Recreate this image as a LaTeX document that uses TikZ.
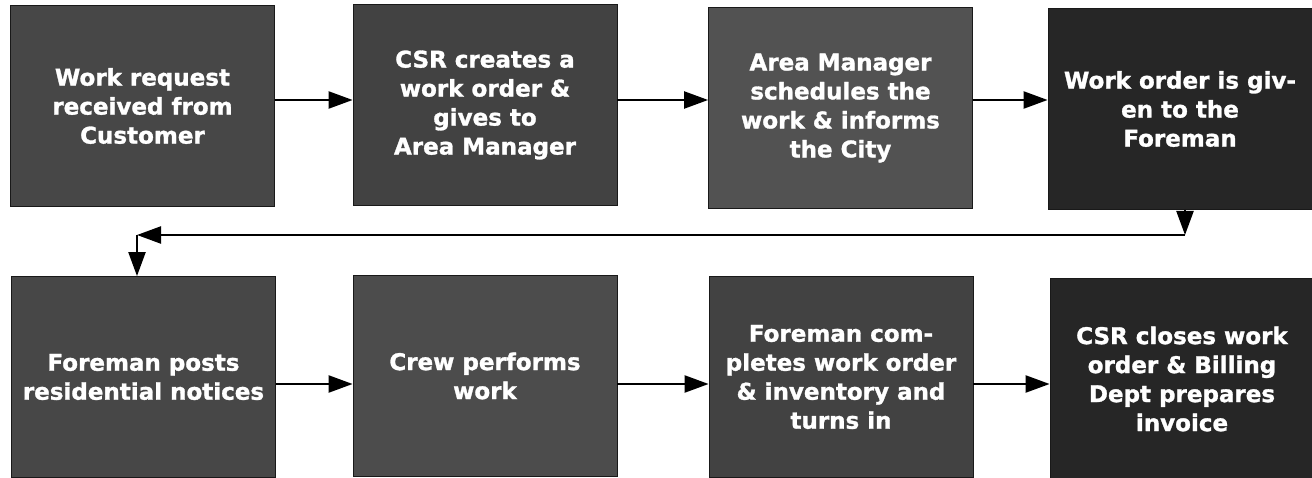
\documentclass[tikz,border=0pt]{standalone}
\usepackage{fontspec}
\setmainfont{DejaVu Sans}
\newfontfamily\boxfont[BoldFeatures={FakeBold=1.3}]{DejaVu Sans}
\usetikzlibrary{arrows.meta}
\begin{document}
\begin{tikzpicture}[x=1pt,y=-1pt,
  box/.style={rectangle, fill=#1, draw=black!90, line width=0.8pt, inner sep=0pt,
    minimum width=264pt, minimum height=201pt, align=center, text=white,
    font=\boxfont\bfseries\fontsize{23}{29}\selectfont},
  box/.default={black!72},
  flow/.style={line width=2.2pt, -{Triangle[length=24pt,width=17pt]}}]
\useasboundingbox (0,0) rectangle (1312,478);
\node[box] (b1) at (142.5,106) {Work request\\received from\\Customer};
\node[box={black!74}] (b2) at (485,105) {CSR creates a\\work order \&\\gives to\\Area Manager};
\node[box={black!68}] (b3) at (840.5,108) {Area Manager\\schedules the\\work \& informs\\the City};
\node[box={black!85}] (b4) at (1180,109) {Work order is giv-\\en to the\\Foreman};
\node[box={black!72}] (b5) at (143.5,377) {Foreman posts\\residential notices};
\node[box={black!70}] (b6) at (485,376) {Crew performs\\work};
\node[box={black!74}] (b7) at (841,377) {Foreman com-\\pletes work order\\\& inventory and\\turns in};
\node[box={black!85}] (b8) at (1182,379) {CSR closes work\\order \& Billing\\Dept prepares\\invoice};
\coordinate (r1) at (0,100);
\coordinate (r2) at (0,384);
\coordinate (c1) at (1185,235);
\coordinate (c2) at (137,235);
\draw[flow] (b1.east |- r1) -- (b2.west |- r1);
\draw[flow] (b2.east |- r1) -- (b3.west |- r1);
\draw[flow] (b3.east |- r1) -- (b4.west |- r1);
\draw[flow] (b4.south -| c1) -- (c1);
\draw[flow] (c1) -- (c2);
\draw[flow] (c2) -- (c2 |- b5.north);
\draw[flow] (b5.east |- r2) -- (b6.west |- r2);
\draw[flow] (b6.east |- r2) -- (b7.west |- r2);
\draw[flow] (b7.east |- r2) -- (b8.west |- r2);
\end{tikzpicture}
\end{document}
